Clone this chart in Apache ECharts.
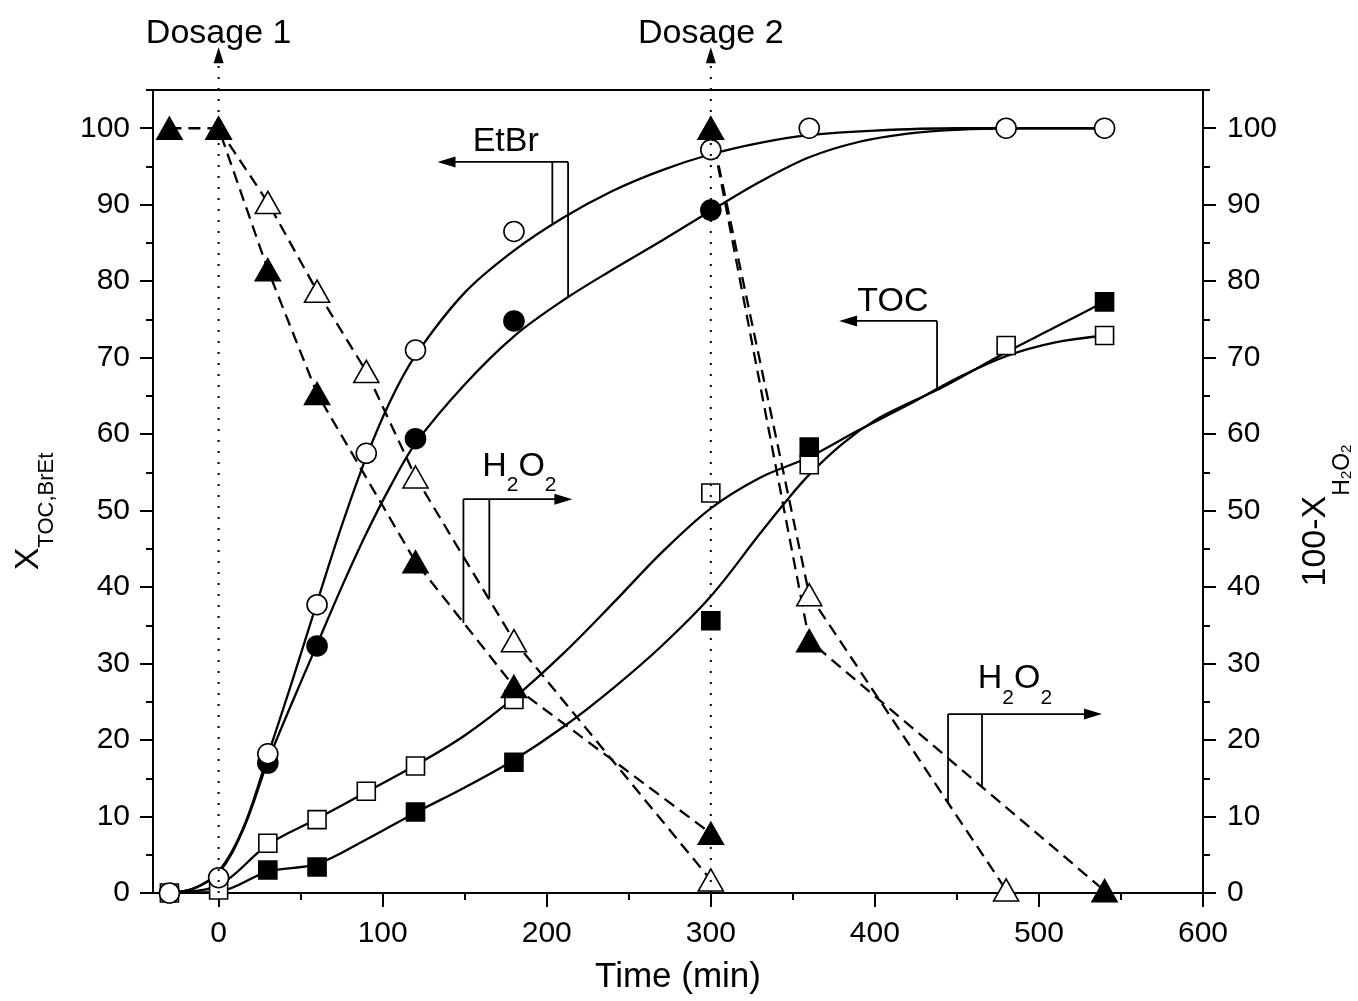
<!DOCTYPE html>
<html>
<head>
<meta charset="utf-8">
<script src="https://cdn.jsdelivr.net/npm/echarts@6/dist/echarts.min.js"></script>
<style>html,body{margin:0;padding:0;background:#fff}</style>
</head>
<body>
<div id="main" style="width:1358px;height:1001px;"></div>
<script type="text/javascript">
// ---- measured points (time in min, conversion in %) ----
var etbrOpen   = [[-30,0],[0,2],[30,18.2],[60,37.7],[90,57.5],[120,71],[180,86.5],[300,97.2],[360,100],[480,100],[540,100]];
var etbrFilled = [[30,17],[60,32.3],[120,59.4],[180,74.8],[300,89.3]];
var tocOpen    = [[-30,0],[0,0.4],[30,6.5],[60,9.6],[90,13.3],[120,16.6],[180,25.3],[300,52.3],[360,56],[480,71.6],[540,72.9]];
var tocFilled  = [[30,3],[60,3.4],[120,10.6],[180,17.1],[300,35.6],[360,58.3],[540,77.3]];

// fitted curves
var etbrOpenFit   = [[-30,0],[-15,0.6],[0,2.8],[15,8.5],[30,18],[45,27.8],[60,38],[75,48],[90,57],[105,64.5],[120,70.3],[150,78.5],[180,84],[210,88.3],[240,91.8],[270,94.5],[300,96.6],[330,98.1],[360,99.1],[400,99.7],[450,100],[540,100]];
var etbrFilledFit = [[-30,0],[-15,0.6],[0,2.6],[15,8.3],[30,17.2],[45,25],[60,32.5],[75,40],[90,47],[105,53.3],[120,58.8],[150,66.5],[180,72.8],[210,77.5],[240,81.5],[270,85.3],[300,89.2],[330,93],[360,96.2],[390,98.2],[420,99.3],[450,99.8],[480,100],[540,100]];
var tocOpenFit    = [[-30,0],[0,1],[30,6.3],[60,9.7],[90,13.2],[120,16.7],[150,20.6],[180,25.5],[210,31.3],[240,37.8],[270,44.5],[300,50.3],[330,54.3],[360,57],[390,60.5],[420,63.8],[450,67.3],[480,70.2],[510,72],[540,72.9]];
var tocFilledFit  = [[-30,0],[0,0.2],[30,2.8],[60,3.8],[90,7],[120,10.5],[150,13.8],[180,17.4],[210,21.7],[240,26.7],[270,32.3],[300,38.8],[330,47],[345,51],[360,54.7],[380,58.7],[400,61.8],[420,64],[440,66],[480,70.7],[510,74],[540,77.3]];

// 100 - X(H2O2), two dosages
var h2o2FilledRun1 = [[-30,100],[0,100],[30,81.5],[60,65.3],[120,43.3],[180,27],[300,7.8]];
var h2o2FilledRun2 = [[300,100],[360,33],[540,0.3]];
var h2o2OpenRun1   = [[0,100],[30,90.3],[60,78.7],[90,68.2],[120,54.4],[180,33],[300,1.7]];
var h2o2OpenRun2   = [[300,100],[360,39],[480,0.4]];

// axis ticks
var xTicks      = [0,100,200,300,400,500,600];
var xMinorTicks = [50,150,250,350,450,550];
var yTicks      = [0,10,20,30,40,50,60,70,80,90,100];
var yMinorTicks = [5,15,25,35,45,55,65,75,85,95,105];

var dosageTimes  = [0, 300];
var dosageLabels = ['Dosage 1', 'Dosage 2'];

var F = 'Liberation Sans';
var black = '#000';
var axisLine = {show: true, onZero: false, lineStyle: {color: black, width: 2}};
var tickLine = {color: black, width: 2};

function curve(data) {
    return {type: 'line', data: data, smooth: 0.35, symbol: 'none',
        lineStyle: {color: black, width: 2.3}, z: 2, silent: true};
}
function dashed(data) {
    return {type: 'line', data: data, yAxisIndex: 1, symbol: 'none',
        lineStyle: {color: black, width: 2.3, type: [12, 7]}, z: 2, silent: true};
}
function marks(data, symbol, size, filled, yIdx, z) {
    return {type: 'scatter', data: data, yAxisIndex: yIdx, symbol: symbol, symbolSize: size,
        itemStyle: {color: filled ? black : '#fff', borderColor: black, borderWidth: 1.6, opacity: 1}, z: z, silent: true};
}
function minorAxis(pos, ticks, isX) {
    return {type: 'value', position: pos, min: isX ? -40 : 0, max: isX ? 600 : 105,
        axisLine: {show: false, onZero: false}, axisLabel: {show: false}, splitLine: {show: false},
        axisTick: {show: true, customValues: ticks, length: 7, lineStyle: tickLine}};
}

var option = {
    backgroundColor: '#fff',
    animation: false,
    grid: {left: 153, right: 155, top: 90, bottom: 108, show: true, borderColor: black, borderWidth: 2,
        containLabel: false, outerBoundsMode: 'none'},
    xAxis: [
        {
            type: 'value', min: -40, max: 600, position: 'bottom',
            axisLine: axisLine,
            axisTick: {show: true, customValues: xTicks, length: 14, lineStyle: tickLine},
            axisLabel: {customValues: xTicks, margin: 26, fontSize: 30, color: black, fontFamily: F},
            splitLine: {show: false},
            name: 'Time (min)', nameLocation: 'middle', nameGap: 67,
            nameTextStyle: {fontSize: 35, color: black, fontFamily: F}
        },
        minorAxis('bottom', xMinorTicks, true)
    ],
    yAxis: [
        {
            type: 'value', min: 0, max: 105, position: 'left',
            axisLine: axisLine,
            axisTick: {show: true, customValues: yTicks, length: 13, lineStyle: tickLine},
            axisLabel: {customValues: yTicks, margin: 23, fontSize: 30, color: black, fontFamily: F},
            splitLine: {show: false},
            name: '{x|X}{s|TOC,BrEt}', nameLocation: 'middle', nameGap: 95,
            nameTextStyle: {color: black, fontFamily: F, fontSize: 34, padding: [0, 40, 0, 0],
                rich: {
                    x: {fontSize: 34, fontFamily: F, color: black, lineHeight: 34, verticalAlign: 'top'},
                    s: {fontSize: 22, fontFamily: F, color: black, lineHeight: 46.5, verticalAlign: 'bottom'}
                }}
        },
        {
            type: 'value', min: 0, max: 105, position: 'right',
            axisLine: axisLine,
            axisTick: {show: true, customValues: yTicks, length: 13, lineStyle: tickLine},
            axisLabel: {customValues: yTicks, margin: 24, fontSize: 30, color: black, fontFamily: F},
            splitLine: {show: false},
            name: '{x|100-X}{s|H}{t|2}{s|O}{t|2}', nameLocation: 'middle', nameGap: 96,
            nameTextStyle: {color: black, fontFamily: F, fontSize: 34, padding: [0, 48, 0, 0],
                rich: {
                    x: {fontSize: 34, fontFamily: F, color: black, lineHeight: 34, verticalAlign: 'top'},
                    s: {fontSize: 23, fontFamily: F, color: black, lineHeight: 55.5, verticalAlign: 'bottom'},
                    t: {fontSize: 15, fontFamily: F, color: black, lineHeight: 55.5, verticalAlign: 'bottom'}
                }}
        },
        minorAxis('left', yMinorTicks, false),
        minorAxis('right', yMinorTicks, false)
    ],
    series: [
        curve(etbrOpenFit),
        curve(etbrFilledFit),
        curve(tocOpenFit),
        curve(tocFilledFit),
        dashed(h2o2FilledRun1),
        dashed(h2o2FilledRun2),
        dashed(h2o2OpenRun1),
        dashed(h2o2OpenRun2),
        marks(tocOpen, 'rect', 18, false, 0, 3),
        marks(tocFilled, 'rect', 18, true, 0, 4),
        marks(etbrFilled, 'circle', 20, true, 0, 5),
        marks(etbrOpen, 'circle', 20, false, 0, 6),
        marks(h2o2OpenRun1.concat(h2o2OpenRun2), 'triangle', [25, 22], false, 1, 7),
        marks(h2o2FilledRun1.concat(h2o2FilledRun2), 'triangle', [25, 22], true, 1, 8)
    ]
};

var chart = echarts.init(document.getElementById('main'));
chart.setOption(option);

// ---- annotations (placed in data units, converted with the chart's own scales) ----
function P(x, y) { return chart.convertToPixel({xAxisIndex: 0, yAxisIndex: 0}, [x, y]); }
var g = [];
function seg(a, b, extra) {
    var st = {stroke: black, lineWidth: 1.8};
    for (var k in extra || {}) st[k] = extra[k];
    g.push({type: 'line', z: 50, silent: true, shape: {x1: a[0], y1: a[1], x2: b[0], y2: b[1]}, style: st});
}
function tri(pts) {
    g.push({type: 'polygon', z: 50, silent: true, shape: {points: pts}, style: {fill: black}});
}
var subRich = {
    n: {fontSize: 34, fontFamily: F, lineHeight: 34, verticalAlign: 'top'},
    s: {fontSize: 21, fontFamily: F, lineHeight: 46.5, verticalAlign: 'bottom'}
};
function label(text, c, rich) {
    var st = {text: text, fill: black, font: '34px "' + F + '"', align: 'center', textAlign: 'center',
        verticalAlign: rich ? 'top' : 'middle', textVerticalAlign: rich ? 'top' : 'middle'};
    if (rich) st.rich = subRich;
    g.push({type: 'text', z: 50, silent: true, x: c[0], y: rich ? c[1] - 17 : c[1], style: st});
}

dosageTimes.forEach(function (t, i) {
    var b = P(t, 0), top = P(t, 110.6);
    seg(b, [top[0], top[1] + 12], {lineDash: [2, 9], lineWidth: 2});
    tri([[top[0], top[1]], [top[0] - 5, top[1] + 16], [top[0] + 5, top[1] + 16]]);
    label(dosageLabels[i], P(t, 112.4));
});

var notes = [
    {text: 'EtBr', at: [175, 98.2], bar: [133.4, 213, 95.6], legs: [[203.4, 87.6], [213, 78]], dir: 'left'},
    {text: 'TOC', at: [411, 77.3], bar: [378.2, 437.9, 74.8], legs: [[437.9, 65.75]], dir: 'left'},
    {text: '{n|H}{s|2}{n|O}{s|2}', rich: true, at: [183.3, 55.8], bar: [149.2, 215.6, 51.5], legs: [[149.2, 35.3], [165, 38.6]], dir: 'right'},
    {text: '{n|H}{s|2}{n|O}{s|2}', rich: true, at: [485.4, 28.0], bar: [444.6, 538.4, 23.4], legs: [[444.6, 11.8], [465.3, 13.9]], dir: 'right'}
];
notes.forEach(function (n) {
    var y = n.bar[2];
    var a = P(n.bar[0], y), b = P(n.bar[1], y);
    var left = n.dir === 'left';
    var tip = left ? a : b, dx = left ? 1 : -1;
    seg([tip[0] + dx * 12, tip[1]], left ? b : a);
    tri([[tip[0], tip[1]], [tip[0] + dx * 18, tip[1] - 5.5], [tip[0] + dx * 18, tip[1] + 5.5]]);
    n.legs.forEach(function (l) { seg(P(l[0], y), P(l[0], l[1])); });
    label(n.text, P(n.at[0], n.at[1]), n.rich);
});

chart.setOption({graphic: {elements: g}});
</script>
</body>
</html>
